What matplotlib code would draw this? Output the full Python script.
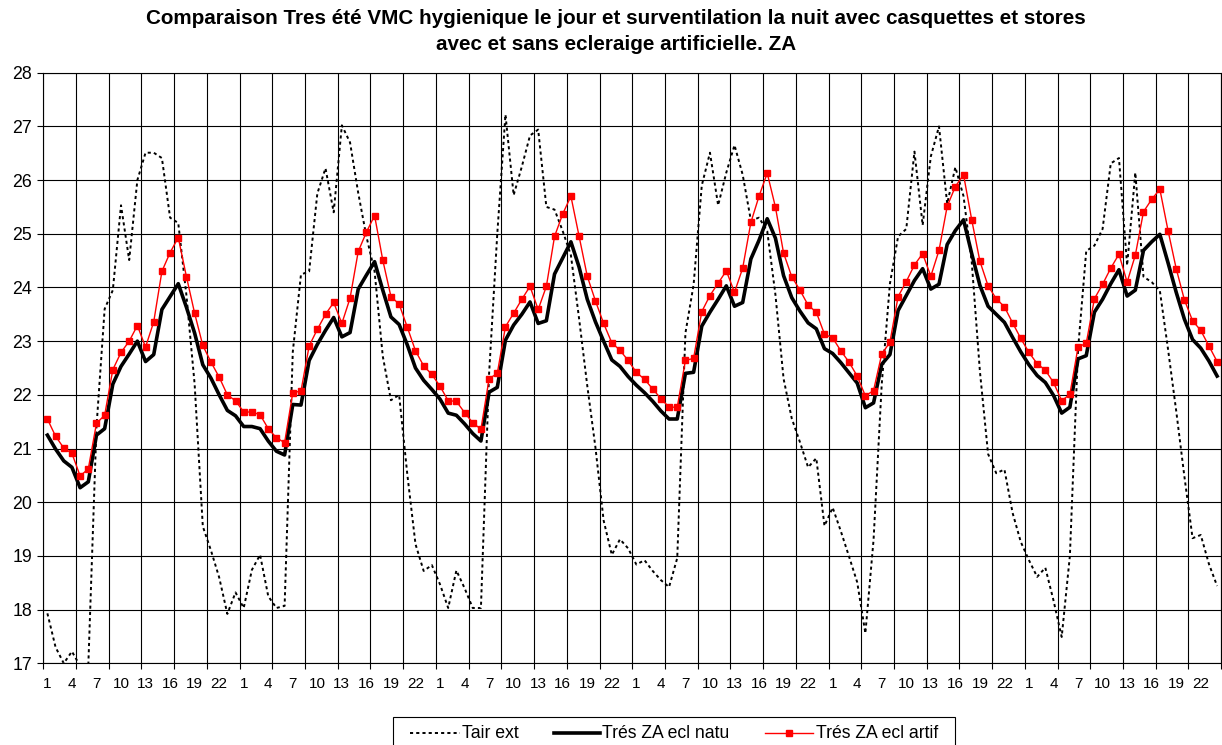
import matplotlib
matplotlib.use('Agg')
import matplotlib.pyplot as plt
import numpy as np
from matplotlib.ticker import FixedLocator
from matplotlib.lines import Line2D
from matplotlib.patches import Rectangle

plt.rcParams['font.family'] = ['Liberation Sans', 'DejaVu Sans']

# ---- data ----
hours = [h for d in range(6) for h in range(1, 25)]

tair_ext = [
    17.93, 17.30, 17.00, 17.22, 16.95, 16.95, 21.40, 23.60, 23.95, 25.53, 24.51, 26.00,
    26.51, 26.51, 26.41, 25.30, 25.20, 23.85, 22.20, 19.55, 19.10, 18.60, 17.92, 18.32,
    18.03, 18.74, 19.02, 18.25, 18.03, 18.07, 22.80, 24.24, 24.30, 25.75, 26.22, 25.40,
    27.02, 26.70, 25.76, 24.95, 24.30, 22.72, 21.90, 22.00, 20.52, 19.22, 18.72, 18.83,
    18.47, 18.03, 18.73, 18.40, 18.03, 18.03, 22.40, 25.00, 27.22, 25.72, 26.25, 26.83,
    26.94, 25.50, 25.45, 25.05, 24.60, 23.42, 22.17, 21.02, 19.66, 19.02, 19.31, 19.14,
    18.84, 18.92, 18.72, 18.55, 18.42, 18.96, 23.15, 24.05, 25.90, 26.51, 25.53, 26.14,
    26.65, 26.10, 25.25, 25.30, 25.05, 23.87, 22.30, 21.56, 21.12, 20.65, 20.82, 19.56,
    19.90, 19.46, 18.99, 18.51, 17.56, 19.30, 22.20, 24.07, 24.95, 25.09, 26.53, 25.16,
    26.44, 27.00, 25.56, 26.24, 25.70, 24.48, 22.44, 20.90, 20.54, 20.61, 19.80, 19.26,
    18.92, 18.61, 18.78, 18.17, 17.49, 19.00, 22.85, 24.68, 24.78, 25.09, 26.31, 26.41,
    24.41, 26.14, 24.20, 24.10, 23.94, 22.85, 21.70, 20.48, 19.33, 19.39, 18.85, 18.44,
]

tres_natu = [
    21.25, 20.99, 20.77, 20.65, 20.27, 20.38, 21.25, 21.37, 22.20, 22.53, 22.76, 23.00,
    22.62, 22.75, 23.59, 23.83, 24.07, 23.63, 23.15, 22.56, 22.31, 22.00, 21.71, 21.61,
    21.41, 21.41, 21.37, 21.14, 20.95, 20.88, 21.82, 21.81, 22.64, 22.94, 23.20, 23.44,
    23.08, 23.16, 23.97, 24.23, 24.48, 23.95, 23.45, 23.31, 22.93, 22.50, 22.27, 22.10,
    21.92, 21.66, 21.62, 21.46, 21.28, 21.14, 22.05, 22.14, 23.02, 23.30, 23.50, 23.73,
    23.33, 23.38, 24.25, 24.55, 24.85, 24.38, 23.78, 23.36, 23.00, 22.65, 22.53, 22.34,
    22.18, 22.04, 21.88, 21.70, 21.55, 21.55, 22.40, 22.42, 23.28, 23.54, 23.78, 24.03,
    23.65, 23.72, 24.53, 24.88, 25.28, 24.92, 24.22, 23.81, 23.56, 23.34, 23.23, 22.86,
    22.77, 22.60, 22.41, 22.22, 21.76, 21.85, 22.57, 22.75, 23.57, 23.85, 24.13, 24.35,
    23.97, 24.06, 24.80, 25.06, 25.26, 24.63, 24.04, 23.65, 23.50, 23.35, 23.07, 22.80,
    22.56, 22.36, 22.23, 21.99, 21.66, 21.77, 22.67, 22.73, 23.54, 23.78, 24.07, 24.33,
    23.84, 23.95, 24.69, 24.85, 24.99, 24.46, 23.91, 23.41, 23.03, 22.87, 22.63, 22.35,
]

tres_artif = [
    21.55, 21.23, 21.01, 20.91, 20.49, 20.62, 21.47, 21.62, 22.47, 22.79, 23.00, 23.29,
    22.89, 23.36, 24.30, 24.65, 24.93, 24.20, 23.52, 22.92, 22.61, 22.33, 22.00, 21.89,
    21.68, 21.68, 21.63, 21.37, 21.20, 21.11, 22.04, 22.07, 22.91, 23.22, 23.50, 23.72,
    23.33, 23.80, 24.67, 25.03, 25.34, 24.51, 23.83, 23.69, 23.26, 22.82, 22.54, 22.38,
    22.16, 21.89, 21.88, 21.67, 21.48, 21.36, 22.30, 22.40, 23.27, 23.52, 23.78, 24.02,
    23.59, 24.02, 24.95, 25.37, 25.70, 24.95, 24.21, 23.75, 23.33, 22.97, 22.83, 22.64,
    22.42, 22.29, 22.11, 21.93, 21.77, 21.77, 22.64, 22.68, 23.55, 23.85, 24.08, 24.31,
    23.91, 24.36, 25.21, 25.70, 26.13, 25.50, 24.64, 24.20, 23.95, 23.67, 23.54, 23.13,
    23.06, 22.82, 22.61, 22.35, 21.98, 22.08, 22.76, 22.98, 23.83, 24.11, 24.42, 24.63,
    24.21, 24.69, 25.51, 25.88, 26.10, 25.26, 24.49, 24.03, 23.79, 23.64, 23.34, 23.05,
    22.79, 22.58, 22.46, 22.23, 21.89, 22.01, 22.89, 22.96, 23.79, 24.06, 24.36, 24.62,
    24.10, 24.60, 25.41, 25.64, 25.83, 25.06, 24.35, 23.77, 23.38, 23.20, 22.91, 22.62,
]

series_labels = ['Tair ext', 'Trés ZA ecl natu', 'Trés ZA ecl artif']
y_ticks = list(range(17, 29))
title_lines = ['Comparaison Tres été VMC hygienique le jour et surventilation la nuit avec casquettes et stores',
               'avec et sans ecleraige artificielle. ZA']

# ---- styles ----
styles = [
    dict(color='black', lw=1.4, linestyle=(0, (1.6, 1.6))),
    dict(color='black', lw=2.6, solid_joinstyle='round'),
    dict(color='#FF0000', lw=1.0, marker='s', ms=3.8),
]

# ---- figure ----
W, H = 1222, 745
fig = plt.figure(figsize=(W / 100, H / 100), dpi=100)
L, R, T, B = 43.3, 1221.2, 72.7, 663.3
ax = fig.add_axes([L / W, 1 - B / H, (R - L) / W, (B - T) / H])

x = np.arange(len(hours))
for vals, lab, st, z in zip([tair_ext, tres_natu, tres_artif], series_labels, styles, [3, 4, 5]):
    ax.plot(x, vals, label=lab, zorder=z, **st)

ax.set_xlim(-0.5, len(hours) - 0.5)
ax.set_ylim(y_ticks[0], y_ticks[-1])
ax.set_yticks(y_ticks)
ax.set_xticks(x[::3])
ax.set_xticklabels([str(h) for h in hours[::3]])
ax.xaxis.set_minor_locator(FixedLocator(np.arange(-0.5, len(hours), 4)))

ax.tick_params(axis='x', which='major', length=0, pad=10, labelsize=11)
ax.tick_params(axis='x', which='minor', length=4, width=0.8, direction='out', color='black')
ax.tick_params(axis='y', which='major', length=4, width=0.8, pad=4, labelsize=12.8)
ax.grid(True, axis='x', which='minor', color='black', lw=0.8)
ax.grid(True, axis='y', which='major', color='black', lw=0.8)
ax.set_axisbelow(True)
for s in ax.spines.values():
    s.set_linewidth(0.8)
    s.set_color('black')

# ---- title ----
fig.text(616 / W, 1 - 18 / H, title_lines[0], ha='center', va='center',
         fontsize=14.9, fontweight='bold')
fig.text(616 / W, 1 - 44 / H, title_lines[1], ha='center', va='center',
         fontsize=14.9, fontweight='bold')

# ---- legend (drawn in figure pixels) ----
def fx(px):
    return px / W

def fy(py):
    return 1 - py / H

fig.add_artist(Rectangle((fx(393), fy(750)), (955 - 393) / W, (750 - 717) / H,
                         transform=fig.transFigure, facecolor='white',
                         edgecolor='black', lw=0.8, clip_on=False))
leg_y = 733
samples = [(409.6, 459.6, 461.5), (554, 600, 602), (765, 812.6, 816.5)]
for (x0, x1, tx), lab, st in zip(samples, series_labels, styles):
    st2 = dict(st)
    if 'marker' in st2:
        fig.add_artist(Line2D([fx(x0), fx((x0 + x1) / 2), fx(x1)], [fy(leg_y)] * 3,
                              transform=fig.transFigure, markevery=[1], **st2))
    else:
        fig.add_artist(Line2D([fx(x0), fx(x1)], [fy(leg_y)] * 2,
                              transform=fig.transFigure, **st2))
    fig.text(fx(tx), fy(leg_y), lab, ha='left', va='center', fontsize=12.7)

fig.savefig('out.png', dpi=100)
